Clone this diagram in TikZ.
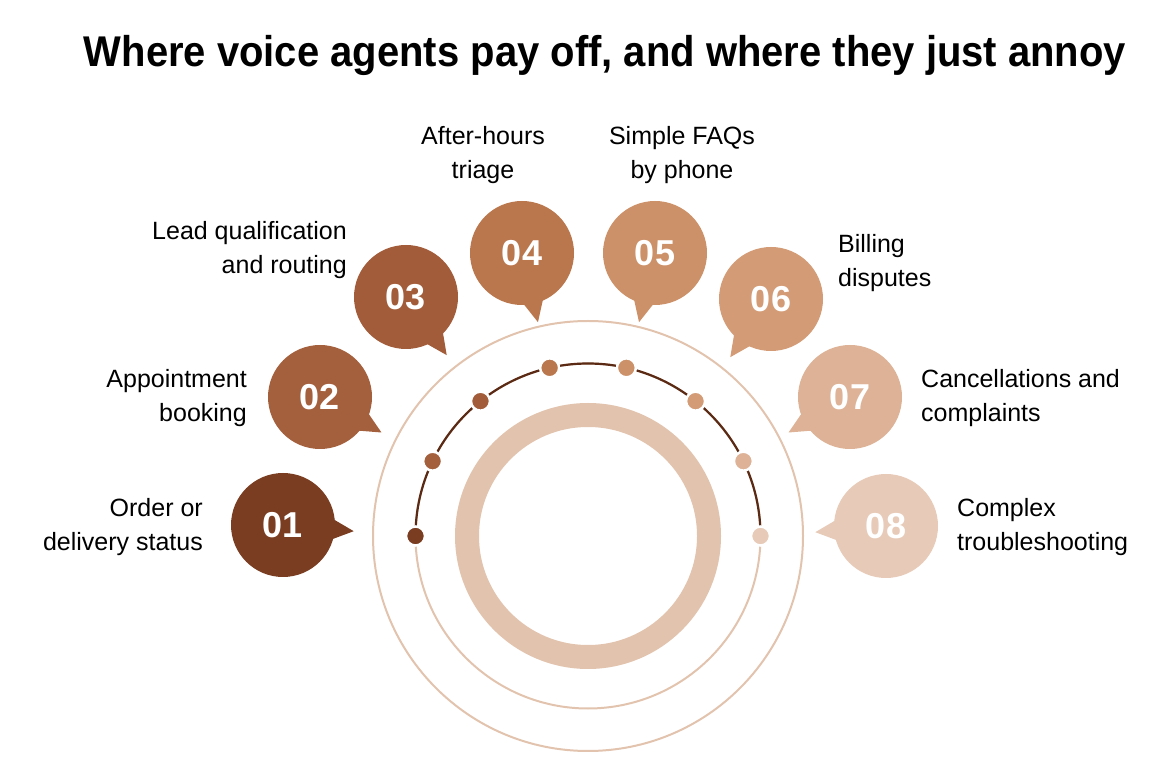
\documentclass[tikz,border=0pt]{standalone}
\usepackage{fontspec}
\setmainfont{Liberation Sans}
\usetikzlibrary{calc}
\definecolor{c1}{HTML}{7A3D21}
\definecolor{c2}{HTML}{A4603D}
\definecolor{c3}{HTML}{A25C39}
\definecolor{c4}{HTML}{BA774D}
\definecolor{c5}{HTML}{CC9168}
\definecolor{c6}{HTML}{D39C77}
\definecolor{c7}{HTML}{DDB296}
\definecolor{c8}{HTML}{E7CBB8}
\definecolor{ringc}{HTML}{E2C3AE}
\definecolor{arcc}{HTML}{5A2A15}
\begin{document}
\begin{tikzpicture}[
    x=1pt, y=1pt,
    bubble/.style={circle,minimum size=104pt,inner sep=0pt,text=white,
        font=\fontsize{36}{36}\selectfont\bfseries},
    lbl/.style={inner sep=0pt,font=\fontsize{25}{34}\selectfont},
    dot/.style={circle,minimum size=19pt,inner sep=0pt,draw=white,line width=2.5pt},
    thinring/.style={draw=ringc,line width=2pt}
]
\useasboundingbox (0,0) rectangle (1165,777);

\node[font=\fontsize{43}{43}\selectfont\bfseries] (title) at (605,722)
    {\scalebox{0.93}[1]{Where voice agents pay off, and where they just annoy}};

% rings round the hub
\coordinate (hub) at (588,241);
\draw[ringc,line width=24pt] (hub) circle[radius=121];
\draw[thinring] (hub) circle[radius=215];
\draw[thinring] (hub) circle[radius=172.5];
\draw[arcc,line width=2.2pt] ($(hub)+(180:172.5)$) arc[start angle=180,end angle=0,radius=172.5];

\foreach \i in {1,...,8}
    \node[dot,fill=c\i] (d\i) at ($(hub)+({180-(\i-1)*180/7}:172.5)$) {};

% speech bubbles
\node[bubble,fill=c1] (b1) at (283,252) {01};
\node[bubble,fill=c2] (b2) at (320,380) {02};
\node[bubble,fill=c3] (b3) at (406,480) {03};
\node[bubble,fill=c4] (b4) at (522,524) {04};
\node[bubble,fill=c5] (b5) at (655,524) {05};
\node[bubble,fill=c6] (b6) at (771,478) {06};
\node[bubble,fill=c7] (b7) at (850,380) {07};
\node[bubble,fill=c8] (b8) at (886,251) {08};

\foreach \i/\a in {1/-5,2/-30,3/-55,4/-77,5/-103,6/-125,7/-150,8/-175}
    \fill[c\i] ($(b\i.center)+(\a+14:48)$) -- ($(b\i.center)+(\a:71)$)
        -- ($(b\i.center)+(\a-14:48)$) -- cycle;

% labels
\node[lbl,align=right,anchor=east] (l1) at (203,250) {Order or\\delivery status};
\node[lbl,align=right,anchor=east] (l2) at (247,379) {Appointment\\booking};
\node[lbl,align=right,anchor=east] (l3) at (347,527) {Lead qualification\\and routing};
\node[lbl,align=center] (l4) at (483,622) {After-hours\\triage};
\node[lbl,align=center] (l5) at (682,622) {Simple FAQs\\by phone};
\node[lbl,align=left,anchor=west] (l6) at (838,514) {Billing\\disputes};
\node[lbl,align=left,anchor=west] (l7) at (921,379) {Cancellations and\\complaints};
\node[lbl,align=left,anchor=west] (l8) at (957,250) {Complex\\troubleshooting};

\end{tikzpicture}
\end{document}
